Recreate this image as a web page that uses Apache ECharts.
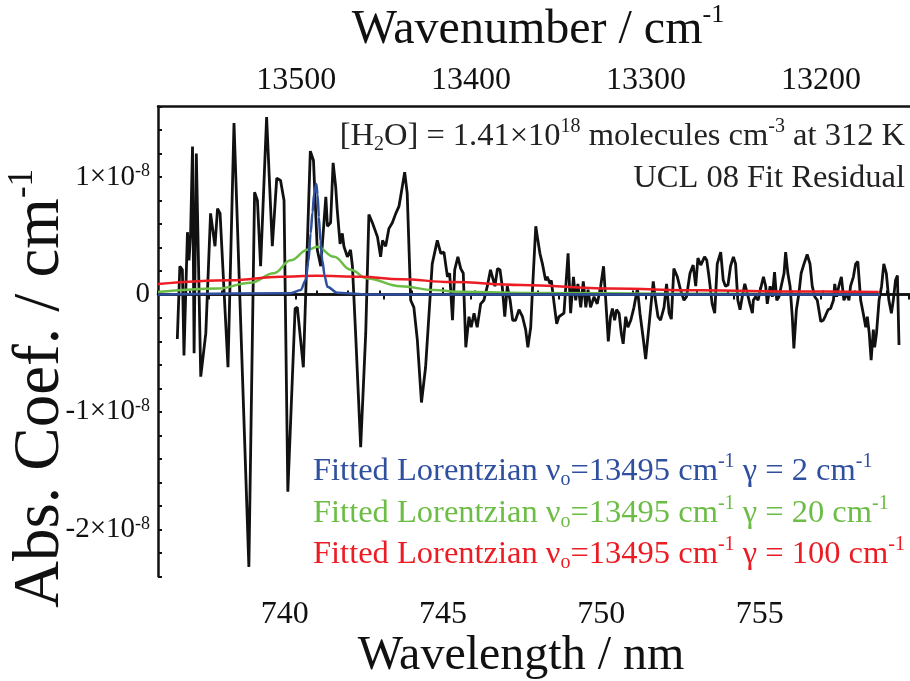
<!DOCTYPE html>
<html lang="en">
<head>
<meta charset="UTF-8">
<title>UCL 08 Fit Residual</title>
<style>
  html, body { margin: 0; padding: 0; background: #fff; }
  #chart { width: 910px; height: 681px; }
</style>
</head>
<body>
<div id="chart"></div>
<script src="https://cdn.jsdelivr.net/npm/echarts@6/dist/echarts.min.js"></script>
<script>
// all absorption values in units of 1e-8 cm^-1
var residualNm = [
  736.61, 736.69, 736.77, 736.82, 736.93, 736.98, 737.03, 737.09, 737.14, 737.21,
  737.35, 737.51, 737.66, 737.80, 737.88, 737.96, 738.21, 738.40, 738.87, 739.05,
  739.14, 739.24, 739.43, 739.61, 739.75, 739.87, 739.98, 740.10, 740.33, 740.40,
  740.59, 740.81, 740.91, 741.03, 741.14, 741.30, 741.35, 741.45, 741.53, 741.61,
  741.66, 741.75, 741.82, 741.87, 741.98, 742.08, 742.14, 742.24, 742.40, 742.56,
  742.66, 742.77, 742.93, 743.03, 743.09, 743.19, 743.29, 743.40, 743.51, 743.61,
  743.66, 743.79, 743.87, 743.98, 744.08, 744.19, 744.32, 744.45, 744.56, 744.66,
  744.82, 744.93, 745.03, 745.14, 745.21, 745.30, 745.37, 745.47, 745.56, 745.64,
  745.72, 745.82, 745.89, 745.98, 746.08, 746.19, 746.29, 746.40, 746.50, 746.56,
  746.64, 746.72, 746.80, 746.87, 746.95, 747.03, 747.12, 747.20, 747.29, 747.40,
  747.51, 747.61, 747.68, 747.77, 747.82, 747.93, 747.98, 748.06, 748.14, 748.24,
  748.29, 748.38, 748.42, 748.51, 748.59, 748.66, 748.82, 748.95, 749.03, 749.12,
  749.19, 749.26, 749.35, 749.43, 749.51, 749.58, 749.66, 749.77, 749.87, 749.98,
  750.07, 750.14, 750.22, 750.29, 750.35, 750.42, 750.48, 750.56, 750.63, 750.69,
  750.77, 750.84, 750.93, 751.03, 751.14, 751.22, 751.33, 751.40, 751.50, 751.64,
  751.71, 751.79, 751.87, 751.98, 752.06, 752.14, 752.21, 752.29, 752.40, 752.50,
  752.61, 752.69, 752.80, 752.90, 752.98, 753.05, 753.14, 753.19, 753.26, 753.33,
  753.40, 753.50, 753.58, 753.66, 753.77, 753.85, 753.92, 754.00, 754.08, 754.17,
  754.24, 754.31, 754.38, 754.45, 754.53, 754.61, 754.69, 754.77, 754.80, 754.87,
  754.95, 755.03, 755.12, 755.19, 755.24, 755.33, 755.40, 755.47, 755.54, 755.61,
  755.68, 755.77, 755.82, 755.89, 755.96, 756.03, 756.08, 756.16, 756.24, 756.31,
  756.40, 756.50, 756.59, 756.66, 756.74, 756.82, 756.93, 757.01, 757.08, 757.16,
  757.24, 757.33, 757.37, 757.43, 757.50, 757.58, 757.66, 757.75, 757.82, 757.87,
  757.96, 758.03, 758.10, 758.19, 758.27, 758.35, 758.40, 758.46, 758.52, 758.59,
  758.63, 758.69, 758.77, 758.85, 758.92, 759.00, 759.08, 759.16, 759.22, 759.29,
  759.35, 759.40
];
var residualVal = [
  -0.38, 0.24, 0.21, -0.52, 0.53, 0.29, 0.52, 1.26, -0.50, 1.20,
  -0.70, -0.33, 0.69, 0.41, 0.73, 0.69, -0.62, 1.46, -2.32, 0.87,
  0.80, 0.24, 1.51, 0.41, 0.99, 0.97, 0.80, -1.68, -0.12, -0.11,
  -0.62, 1.22, 1.14, 0.38, 0.24, 0.83, 0.58, 0.61, 1.12, 0.92,
  0.72, 0.43, 0.52, 0.41, 0.32, 0.38, 0.24, -0.33, -1.30, -0.33,
  0.68, 0.61, 0.49, 0.32, 0.46, 0.41, 0.56, 0.61, 0.69, 0.75,
  0.83, 1.04, 0.86, -0.05, -0.11, -0.39, -0.92, -0.62, -0.16, 0.26,
  0.46, 0.35, 0.36, 0.15, 0.18, -0.22, 0.21, 0.32, 0.22, 0.18,
  -0.45, -0.19, -0.28, -0.16, -0.28, -0.08, -0.05, 0.07, 0.21, 0.15,
  0.07, 0.22, 0.21, 0.07, -0.19, 0.07, -0.05, -0.22, -0.22, -0.13,
  -0.19, -0.30, -0.45, -0.28, 0.01, 0.58, 0.49, 0.35, 0.26, 0.12,
  0.15, 0.09, 0.12, -0.08, -0.25, -0.19, -0.16, 0.35, -0.16, 0.15,
  -0.05, 0.09, -0.11, 0.11, -0.11, 0.04, -0.11, -0.02, -0.08, 0.07,
  0.24, -0.05, -0.40, -0.19, -0.12, -0.22, -0.13, -0.16, -0.33, -0.42,
  -0.19, -0.28, -0.22, -0.11, 0.05, -0.16, -0.39, -0.55, -0.28, 0.11,
  -0.05, -0.19, -0.22, -0.11, 0.09, -0.16, -0.21, 0.22, 0.15, 0.04,
  -0.05, -0.02, 0.18, 0.25, 0.07, 0.31, 0.25, 0.26, 0.32, 0.29,
  0.15, -0.08, -0.16, 0.26, 0.36, 0.12, 0.07, 0.08, 0.24, 0.32,
  0.26, -0.05, -0.13, -0.02, 0.09, 0.01, -0.08, -0.16, -0.05, -0.02,
  -0.05, 0.05, 0.15, 0.07, -0.08, 0.07, -0.02, 0.19, -0.05, -0.02,
  0.07, 0.18, 0.36, 0.18, 0.07, -0.19, -0.46, -0.13, 0.01, 0.18,
  0.26, 0.34, 0.26, 0.07, -0.02, -0.05, -0.23, -0.22, -0.18, -0.13,
  -0.12, -0.05, 0.09, -0.02, 0.07, 0.15, -0.05, 0.01, -0.05, 0.07,
  0.15, 0.26, 0.28, -0.05, -0.16, -0.28, -0.19, -0.33, -0.56, -0.30,
  -0.45, -0.33, -0.05, 0.07, 0.26, 0.18, -0.05, -0.16, -0.05, 0.12,
  0.16, -0.43
];

// fitted Lorentzians
var blueNm  = [736.0, 740.19, 740.51, 740.66, 740.75, 740.82, 740.88, 740.93, 741.00, 741.04, 741.08, 741.13, 741.19, 741.26, 741.35, 741.66, 742.5, 758.8];
var blueVal = [0.0, 0.01, 0.037, 0.12, 0.28, 0.52, 0.70, 0.86, 0.94, 0.85, 0.66, 0.45, 0.29, 0.16, 0.065, 0.014, 0.0, 0.0];
var greenNm  = [736.0, 737.88, 738.93, 739.66, 740.19, 740.72, 741.03, 741.56, 742.08, 742.61, 743.66, 744.71, 745.55, 748.0, 752.0, 758.8];
var greenVal = [0.02, 0.05, 0.10, 0.18, 0.29, 0.38, 0.405, 0.32, 0.21, 0.136, 0.07, 0.037, 0.022, 0.012, 0.006, 0.003];
var redNm  = [736.0, 738.3, 739.87, 741.0, 742.4, 743.66, 745.24, 747.45, 750.29, 753.13, 756.29, 758.76];
var redVal = [0.088, 0.12, 0.15, 0.158, 0.15, 0.13, 0.105, 0.08, 0.05, 0.035, 0.025, 0.02];

function pairs(xs, ys) {
  var out = [];
  for (var i = 0; i < xs.length; i++) out.push([xs[i], ys[i]]);
  return out;
}

var serif = 'Liberation Serif';
var blue = '#2f4f9f', green = '#6cbd45', red = '#ec1c24';

function richFor(size, color) {
  return {
    sup: { fontFamily: serif, fontSize: Math.round(size * 0.6), color: color, verticalAlign: 'top', lineHeight: 20 },
    sub: { fontFamily: serif, fontSize: Math.round(size * 0.6), color: color, verticalAlign: 'bottom', lineHeight: 14 }
  };
}

function legendTitle(txt, color, top) {
  return {
    text: txt, left: 313, top: top, padding: 0,
    textStyle: { fontFamily: serif, fontSize: 32.5, fontWeight: 'normal', color: color, lineHeight: 38, rich: richFor(32.5, color) }
  };
}

var chart = echarts.init(document.getElementById('chart'));
var option = {
  animation: false,
  backgroundColor: '#fff',
  title: [
    {
      text: '[H{sub|2}O] = 1.41×10{sup|18} molecules cm{sup|-3} at 312 K', right: 5, top: 117, padding: 0,
      textStyle: { fontFamily: serif, fontSize: 32.5, fontWeight: 'normal', color: '#222', lineHeight: 38, rich: richFor(32.5, '#222') }
    },
    {
      text: 'UCL 08 Fit Residual', right: 5, top: 159, padding: 0,
      textStyle: { fontFamily: serif, fontSize: 32.5, fontWeight: 'normal', color: '#222', lineHeight: 38 }
    },
    legendTitle('Fitted Lorentzian ν{sub|o}=13495 cm{sup|-1} γ = 2 cm{sup|-1}', blue, 452),
    legendTitle('Fitted Lorentzian ν{sub|o}=13495 cm{sup|-1} γ = 20 cm{sup|-1}', green, 494),
    legendTitle('Fitted Lorentzian ν{sub|o}=13495 cm{sup|-1} γ = 100 cm{sup|-1}', red, 535)
  ],
  grid: [
    { left: 158, right: -8, top: 106.5, bottom: 104.7, outerBoundsMode: 'none' },
    // wavenumber scale on top
    { left: 208.7, right: 1.6, top: 106.5, bottom: 104.7, outerBoundsMode: 'none' },
    // major wavelength ticks + labels
    { left: 284.7, right: -8, top: 106.5, bottom: 104.7, outerBoundsMode: 'none' }
  ],
  xAxis: [
    {
      gridIndex: 0, type: 'value', position: 'bottom', min: 736, max: 760, interval: 1,
      axisLine: { lineStyle: { color: '#111', width: 2.5 } },
      axisTick: { inside: true, length: 4, lineStyle: { color: '#111', width: 2 } },
      axisLabel: { show: false },
      splitLine: { show: false },
      name: 'Wavelength / nm', nameLocation: 'middle', nameGap: 80, nameMoveOverlap: false,
      nameTextStyle: { fontFamily: serif, fontSize: 48, color: '#111', align: 'center', verticalAlign: 'middle', padding: [0, 34, 0, 0] }
    },
    {
      gridIndex: 0, type: 'value', position: 'top', min: 736, max: 760,
      axisLine: { lineStyle: { color: '#111', width: 2.5 } },
      axisTick: { show: false }, axisLabel: { show: false }, splitLine: { show: false },
      name: 'Wavenumber / cm{sup|-1}', nameLocation: 'middle', nameGap: 76, nameMoveOverlap: false,
      nameTextStyle: {
        fontFamily: serif, fontSize: 48, color: '#111', align: 'center', verticalAlign: 'middle', lineHeight: 56,
        rich: { sup: { fontFamily: serif, fontSize: 26, color: '#111', verticalAlign: 'top', lineHeight: 30 } }
      }
    },
    {
      gridIndex: 1, type: 'value', position: 'top', inverse: true, min: 13150, max: 13550, interval: 50,
      axisLine: { show: false },
      axisTick: { inside: true, length: 5, lineStyle: { color: '#111', width: 2 } },
      axisLabel: {
        margin: 26, fontFamily: serif, fontSize: 32, color: '#111', verticalAlign: 'middle',
        formatter: function (v) { return v % 100 === 0 ? String(v) : ''; }
      },
      splitLine: { show: false }
    },
    {
      gridIndex: 2, type: 'value', position: 'bottom', min: 740, max: 760, interval: 5,
      axisLine: { show: false },
      axisTick: { inside: true, length: 7, lineStyle: { color: '#111', width: 2 } },
      axisLabel: {
        margin: 38, fontFamily: serif, fontSize: 32, color: '#111', verticalAlign: 'middle',
        formatter: function (v) { return v < 760 ? String(v) : ''; }
      },
      splitLine: { show: false }
    }
  ],
  yAxis: [
    {
      gridIndex: 0, type: 'value', min: -2.4, max: 1.6, interval: 0.2,
      axisLine: { lineStyle: { color: '#111', width: 2.5 } },
      axisTick: { inside: true, length: 4, lineStyle: { color: '#111', width: 2 } },
      axisLabel: {
        margin: 8, fontFamily: serif, fontSize: 29, color: '#111', align: 'right',
        rich: { sup: { fontFamily: serif, fontSize: 18, color: '#111', verticalAlign: 'top', lineHeight: 18 } },
        formatter: function (v) {
          if (Math.abs(v - Math.round(v)) > 1e-6) return '';
          var n = Math.round(v);
          if (n === 0) return '0';
          return n + '×10{sup|-8}';
        }
      },
      splitLine: { show: false },
      name: 'Abs. Coef. / cm{sup|-1}', nameLocation: 'middle', nameGap: 117, nameRotate: 90, nameMoveOverlap: false,
      nameTextStyle: {
        fontFamily: serif, fontSize: 65, color: '#111', align: 'center', verticalAlign: 'middle', lineHeight: 72,
        padding: [0, 94, 0, 0],
        rich: { sup: { fontFamily: serif, fontSize: 35, color: '#111', verticalAlign: 'top', lineHeight: 37 } }
      }
    },
    { gridIndex: 1, type: 'value', show: false, min: -2.4, max: 1.6 },
    { gridIndex: 2, type: 'value', show: false, min: -2.4, max: 1.6 }
  ],
  series: [
    {
      name: 'Residual', type: 'line', xAxisIndex: 0, yAxisIndex: 0,
      data: pairs(residualNm, residualVal), showSymbol: false,
      lineStyle: { color: '#111', width: 2.8 },
      markLine: {
        silent: true, symbol: 'none', label: { show: false },
        lineStyle: { color: '#111', width: 2.5, type: 'solid' },
        data: [{ yAxis: 0 }]
      },
      z: 2
    },
    {
      name: 'gamma 20', type: 'line', xAxisIndex: 0, yAxisIndex: 0,
      data: pairs(greenNm, greenVal), showSymbol: false, smooth: 0.4, smoothMonotone: 'x',
      lineStyle: { color: green, width: 2.5 }, z: 3
    },
    {
      name: 'gamma 100', type: 'line', xAxisIndex: 0, yAxisIndex: 0,
      data: pairs(redNm, redVal), showSymbol: false, smooth: 0.4, smoothMonotone: 'x',
      lineStyle: { color: red, width: 2.5 }, z: 4
    },
    {
      name: 'gamma 2', type: 'line', xAxisIndex: 0, yAxisIndex: 0,
      data: pairs(blueNm, blueVal), showSymbol: false, smooth: 0.3, smoothMonotone: 'x',
      lineStyle: { color: blue, width: 2.5 }, z: 5
    }
  ]
};
chart.setOption(option);
</script>
</body>
</html>
